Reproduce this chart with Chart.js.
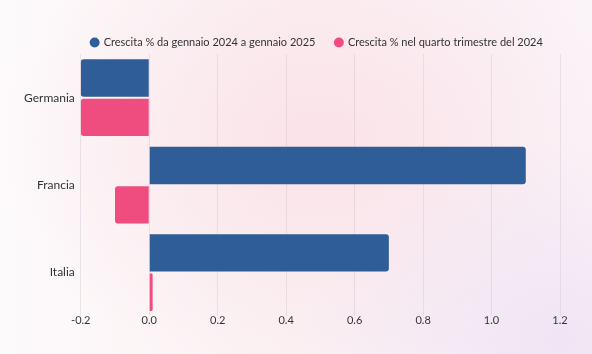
<!DOCTYPE html>
<html>
<head>
<meta charset="utf-8">
<script src="https://cdn.jsdelivr.net/npm/chart.js@4"></script>
<style>
  html, body { margin: 0; padding: 0; }
  body {
    width: 592px; height: 354px; overflow: hidden;
    background:
      radial-gradient(ellipse 260px 200px at 560px 340px, rgba(238,226,243,0.85), rgba(238,226,243,0)),
      radial-gradient(ellipse 320px 240px at 320px 140px, rgba(250,226,232,0.95), rgba(250,226,232,0)),
      linear-gradient(90deg, #fdfafb 0%, #fbf1f3 50%, #faf4f9 100%);
  }
  #wrap { position: relative; width: 592px; height: 354px; }
</style>
</head>
<body>
<div id="wrap"><canvas id="myChart"></canvas></div>
<script>
const countries = ['Germania', 'Francia', 'Italia'];
const seriesNames = ['Crescita % da gennaio 2024 a gennaio 2025', 'Crescita % nel quarto trimestre del 2024'];
const growthYear = [-0.2, 1.1, 0.7];
const growthQ4 = [-0.2, -0.1, 0.01];
const xTicks = [-0.2, 0.0, 0.2, 0.4, 0.6, 0.8, 1.0, 1.2];

Chart.defaults.font.family = 'Lato, "Noto Sans", sans-serif';
Chart.defaults.color = '#333333';

// legend in the original is centred over the plot area, not the canvas,
// and sits a bit lower than its default box
const shiftLegend = {
  id: 'shiftLegend',
  afterLayout(chart) {
    const dx = 28, dy = 4;
    chart.legend.left += dx;
    chart.legend.right += dx;
    chart.legend.top += dy;
    chart.legend.bottom += dy;
  }
};

var ctx = document.getElementById('myChart');
var myChart = new Chart(ctx, {
  type: 'bar',
  data: {
    labels: countries,
    datasets: [{
      label: seriesNames[0],
      data: growthYear,
      backgroundColor: '#2e5d98',
      borderRadius: 3
    }, {
      label: seriesNames[1],
      data: growthQ4,
      backgroundColor: '#ef4d80',
      borderRadius: 3
    }]
  },
  options: {
    indexAxis: 'y',
    responsive: true,
    maintainAspectRatio: false,
    animation: false,
    categoryPercentage: 0.9,
    barPercentage: 0.95,
    layout: { padding: { top: 13, left: 18, right: 32, bottom: 30 } },
    plugins: {
      legend: {
        labels: {
          usePointStyle: true,
          pointStyle: 'circle',
          boxWidth: 7,
          boxHeight: 7,
          padding: 20,
          font: { size: 11 },
          color: '#333333'
        }
      },
      tooltip: { enabled: false }
    },
    scales: {
      x: {
        min: -0.2,
        max: 1.2,
        afterBuildTicks: (axis) => { axis.ticks = xTicks.map(v => ({ value: v })); },
        ticks: {
          font: { size: 11, lineHeight: 0.7 },
          padding: 0,
          callback: (v) => Number(v).toFixed(1)
        },
        grid: { color: 'rgba(190,175,190,0.28)', drawTicks: false },
        border: { display: false }
      },
      y: {
        ticks: { font: { size: 12 }, padding: 6 },
        grid: { display: false, drawTicks: false },
        border: { display: false }
      }
    }
  },
  plugins: [shiftLegend]
});
</script>
</body>
</html>
